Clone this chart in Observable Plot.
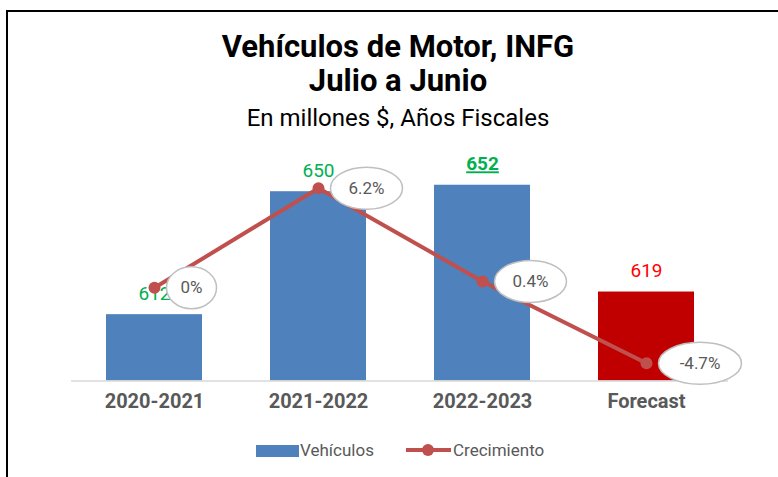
<!DOCTYPE html>
<html>
<head>
<meta charset="utf-8">
<script src="https://cdn.jsdelivr.net/npm/d3@7"></script>
<script src="https://cdn.jsdelivr.net/npm/@observablehq/plot@0.6"></script>
<style>
  html, body { margin: 0; padding: 0; background: #fff; }
  #wrap { position: relative; width: 778px; height: 477px; overflow: hidden; background: #fff; font-family: Roboto, "Noto Sans", sans-serif; }
  #border { position: absolute; left: 6px; top: 10px; right: -10px; bottom: -10px; border-top: 2px solid #000; border-left: 2px solid #000; pointer-events: none; }
  .t { position: absolute; left: 0; width: 796px; text-align: center; color: #000; white-space: nowrap; }
  #t1 { top: 28px; height: 38px; line-height: 38px; font-size: 31px; font-weight: 700; }
  #t2 { top: 62px; height: 38px; line-height: 38px; font-size: 31px; font-weight: 700; }
  #t3 { top: 104px; height: 29px; line-height: 29px; font-size: 24px; font-weight: 400; }
  #chart { position: absolute; left: 0; top: 0; }
  #legend { position: absolute; left: 0; top: 439px; width: 778px; height: 22px; }
  .lg { position: absolute; top: 0; height: 22px; line-height: 22px; font-size: 17px; color: #595959; white-space: nowrap; }
  .lbl-max text { text-decoration: underline; }
</style>
</head>
<body>
<div id="wrap">
  <div id="chart"></div>
  <div class="t" id="t1">Vehículos de Motor, INFG</div>
  <div class="t" id="t2">Julio a Junio</div>
  <div class="t" id="t3">En millones $, Años Fiscales</div>
  <div id="legend">
    <div class="lg" style="left:256px;"><span style="display:inline-block;width:43px;height:12px;background:#4F81BD;vertical-align:-1px;"></span></div>
    <div class="lg" style="left:300px;">Vehículos</div>
    <div class="lg" style="left:406px;"><svg width="46" height="22" style="display:block"><line x1="0" y1="11" x2="45" y2="11" stroke="#C0504D" stroke-width="4"/><circle cx="22" cy="11" r="6" fill="#C0504D"/></svg></div>
    <div class="lg" style="left:453px;">Crecimiento</div>
  </div>
  <div id="border"></div>
</div>
<script>
// ---- data ----
const categories = ["2020-2021", "2021-2022", "2022-2023", "Forecast"];
const vehiculos = [612, 650, 652, 619];
const crecimiento = [0, 6.2, 0.4, -4.7];
const growthLabels = ["0%", "6.2%", "0.4%", "-4.7%"];

// ---- scales ----
const yDomain = [591.5, 661.5];          // primary axis (millones $)
const growthDomain = [-5.8, 8.3];        // secondary axis (%)
const sec = d3.scaleLinear().domain(growthDomain).range(yDomain);

const data = categories.map((c, i) => ({cat: c, value: vehiculos[i], growth: crecimiento[i], label: growthLabels[i]}));
const maxV = d3.max(vehiculos);
const barColor = d => d.cat === "Forecast" ? "#C00000" : "#4F81BD";
const labelColor = d => d.cat === "Forecast" ? "#FF0000" : "#00B050";

function ellipseSymbol(rx, ry) {
  const k = 0.5522847498;
  return {
    draw(ctx) {
      ctx.moveTo(rx, 0);
      ctx.bezierCurveTo(rx, k * ry, k * rx, ry, 0, ry);
      ctx.bezierCurveTo(-k * rx, ry, -rx, k * ry, -rx, 0);
      ctx.bezierCurveTo(-rx, -k * ry, -k * rx, -ry, 0, -ry);
      ctx.bezierCurveTo(k * rx, -ry, rx, -k * ry, rx, 0);
      ctx.closePath();
    }
  };
}
const rxOf = d => 14 + 5.5 * d.label.length;
const gy = d => sec(d.growth);

const calloutMarks = data.flatMap(d => [
  Plot.dot([d], {x: "cat", y: gy, r: 21, dx: rxOf(d) + 12, symbol: ellipseSymbol(rxOf(d), 21),
    fill: "#FFFFFF", stroke: "#BFBFBF", strokeWidth: 1.5}),
  Plot.text([d], {x: "cat", y: gy, text: "label", dx: rxOf(d) + 12, fill: "#595959",
    fontSize: 17, fontFamily: "Roboto, sans-serif"})
]);

const chart = Plot.plot({
  width: 778,
  height: 477,
  marginTop: 154,
  marginBottom: 96.5,
  marginLeft: 71,
  marginRight: 50,
  x: {domain: categories, paddingInner: 0.415, paddingOuter: 0.2075, axis: null},
  y: {domain: yDomain, axis: null},
  color: {type: "identity"},
  style: {background: "transparent", fontFamily: "Roboto, sans-serif", overflow: "visible"},
  marks: [
    Plot.barY(data, {x: "cat", y1: yDomain[0], y2: "value", fill: barColor}),
    Plot.ruleY([yDomain[0]], {stroke: "#D9D9D9", strokeWidth: 1.5}),
    Plot.text(categories, {x: d => d, frameAnchor: "bottom", dy: 27, fill: "#595959",
      fontSize: 20, fontWeight: "bold", fontFamily: "Roboto, sans-serif"}),
    Plot.text(data.filter(d => d.value !== maxV), {x: "cat", y: "value", text: d => String(d.value), dy: -21,
      fill: labelColor, fontSize: 19, fontFamily: "Roboto, sans-serif"}),
    Plot.text(data.filter(d => d.value === maxV), {x: "cat", y: "value", text: d => String(d.value), dy: -21,
      fill: labelColor, fontSize: 19, fontWeight: "bold", fontFamily: "Roboto, sans-serif", className: "lbl-max"}),
    Plot.line(data, {x: "cat", y: gy, stroke: "#C0504D", strokeWidth: 4}),
    Plot.dot(data, {x: "cat", y: gy, r: 6, fill: "#C0504D"}),
    ...calloutMarks
  ]
});
document.getElementById("chart").appendChild(chart);
</script>
</body>
</html>
